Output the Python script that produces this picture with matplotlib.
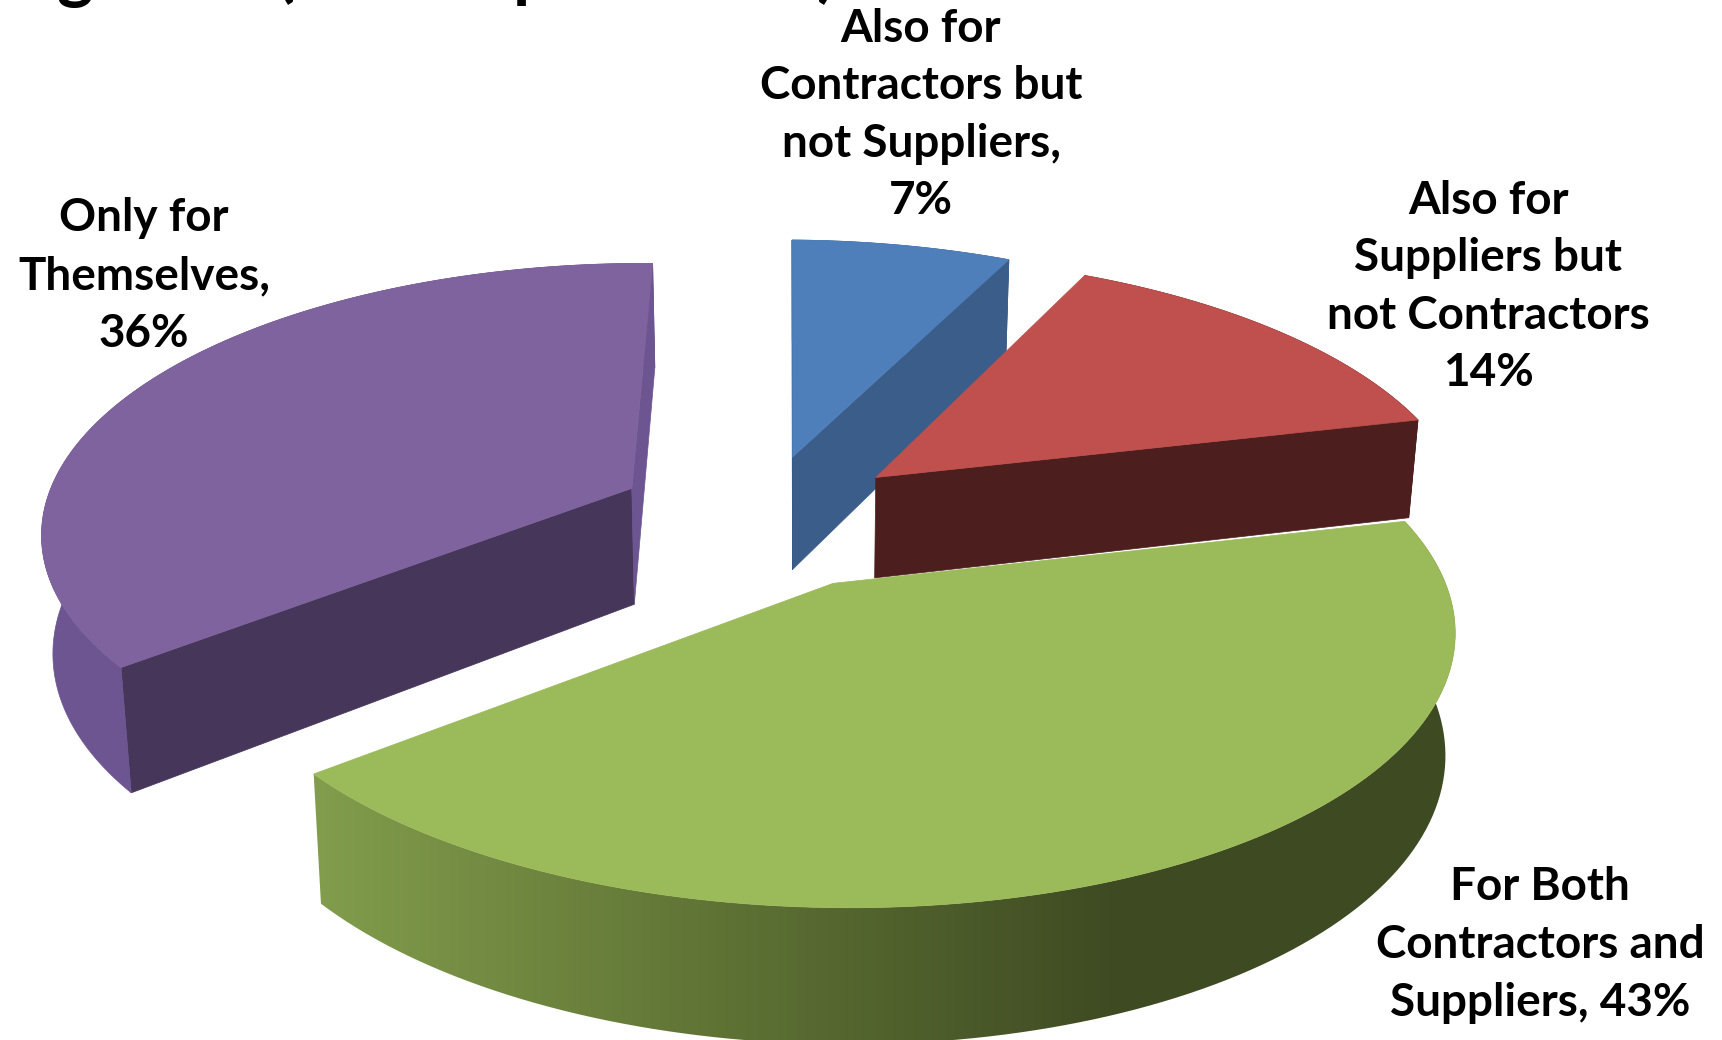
import numpy as np
import matplotlib
matplotlib.use("Agg")
import matplotlib.pyplot as plt
from matplotlib.patches import PathPatch, Polygon
from matplotlib.path import Path
from matplotlib.colors import LinearSegmentedColormap

# shares in pie order, clockwise from twelve o'clock
shares = [7, 14, 43, 36]
categories = [
    "Also for\nContractors but\nnot Suppliers,",
    "Also for\nSuppliers but\nnot Contractors",
    "For Both\nContractors and\nSuppliers,",
    "Only for\nThemselves,",
]
value_seps = ["\n", "\n", " ", "\n"]

top_colors = ["#4F7FBB", "#BF504D", "#9BBA59", "#7F639E"]
start_face_colors = ["#1F3A5E", None, None, "#46365A"]
end_face_colors = ["#3A5D8A", "#4D1E1E", None, "#6C5590"]
rim_colors = ["#3A5D8A", "#4D1E1E", None, "#6C5590"]
depths = [114, 101, 115, 116]
explode_x = [0.21, 0.245, 0.245, 0.251]
explode_y = [0.23, 0.23, 0.275, 0.23]
squash_x = [1.0, 1.0, 0.99, 0.985]
squash_y = [1.0, 1.0, 0.955, 1.0]
label_xy = [(921, 115), (1488, 287), (1540, 945), (144, 276)]

# bits of the heading that reach into the frame
heading_bits = ["g", "(", "p", ")"]
heading_x = [75, 285, 532, 826]

# exploded pie seen in perspective
PX_A, PX_B, PX_C = 597.0, 121.0, 765.0
PX_D, PX_E, PX_F, PX_G = -188.0, 4.0, 515.0, 0.153
NADIR_X = 800.0
NADIR_K = 0.015


def project(x, y):
    w = 1 + PX_G * y
    return (PX_A * x + PX_B * y + PX_C) / w, (PX_D * y + PX_E * x + PX_F) / w


def drop(px, py, depth):
    # bottom edge of the pie right below a point of the top face
    scale = 1 + 0.00045 * (py - 490)
    return px + (NADIR_X - px) * NADIR_K, py + depth * scale


def slice_points(start, end, i, n=120):
    mid = np.radians((start + end) / 2)
    cx, cy = explode_x[i] * np.sin(mid), explode_y[i] * np.cos(mid)
    t = np.radians(np.linspace(start, end, n))
    rim_x, rim_y = project(cx + squash_x[i] * np.sin(t), cy + squash_y[i] * np.cos(t))
    return project(cx, cy), rim_x, rim_y


fig = plt.figure(figsize=(17.22, 10.40), dpi=100)
ax = fig.add_axes([0, 0, 1, 1])
ax.set_xlim(0, 1722)
ax.set_ylim(1040, 0)
ax.axis("off")

# rim of the big slice fades from mid green to dark olive
green_rim = LinearSegmentedColormap.from_list("green_rim", ["#829D4C", "#5F7335", "#3E4A22"], N=256)
x_ramp = np.arange(1722).reshape(1, -1)

edges = np.cumsum([0] + shares) * 3.6
for i in [3, 0, 1, 2]:
    (cx, cy), rim_x, rim_y = slice_points(edges[i], edges[i + 1], i)
    depth = depths[i]
    bot_x, bot_y = drop(rim_x, rim_y, depth)
    cbx, cby = drop(cx, cy, depth)

    if start_face_colors[i]:
        ax.add_patch(Polygon([(cx, cy), (rim_x[0], rim_y[0]), (bot_x[0], bot_y[0]), (cbx, cby)],
                             fc=start_face_colors[i], ec=start_face_colors[i], lw=0.5))
    if end_face_colors[i]:
        ax.add_patch(Polygon([(cx, cy), (rim_x[-1], rim_y[-1]), (bot_x[-1], bot_y[-1]), (cbx, cby)],
                             fc=end_face_colors[i], ec=end_face_colors[i], lw=0.5))

    band = np.column_stack([np.r_[rim_x, bot_x[::-1]], np.r_[rim_y, bot_y[::-1]]])
    if rim_colors[i]:
        ax.add_patch(Polygon(band, fc=rim_colors[i], ec=rim_colors[i], lw=0.5))
    else:
        patch = PathPatch(Path(np.vstack([band, band[0]])), fc="none", ec="none")
        ax.add_patch(patch)
        img = ax.imshow(x_ramp, extent=(0, 1722, 1040, 0), cmap=green_rim, vmin=312, vmax=1122,
                        aspect="auto", zorder=1)
        img.set_clip_path(patch)

    top = np.column_stack([np.r_[cx, rim_x], np.r_[cy, rim_y]])
    ax.add_patch(Polygon(top, fc=top_colors[i], ec=top_colors[i], lw=0.5, zorder=2))

for cat, sep, val, (lx, ly) in zip(categories, value_seps, shares, label_xy):
    ax.text(lx, ly, f"{cat}{sep}{val}%", ha="center", va="center", multialignment="center",
            family="Lato", weight="bold", fontsize=33, linespacing=1.46, color="black", zorder=5)

for bit, bx in zip(heading_bits, heading_x):
    ax.text(bx, -6, bit, ha="center", va="baseline", family="Lato", weight="bold",
            fontsize=50, color="black", zorder=5)

fig.savefig("out.png", dpi=100)
